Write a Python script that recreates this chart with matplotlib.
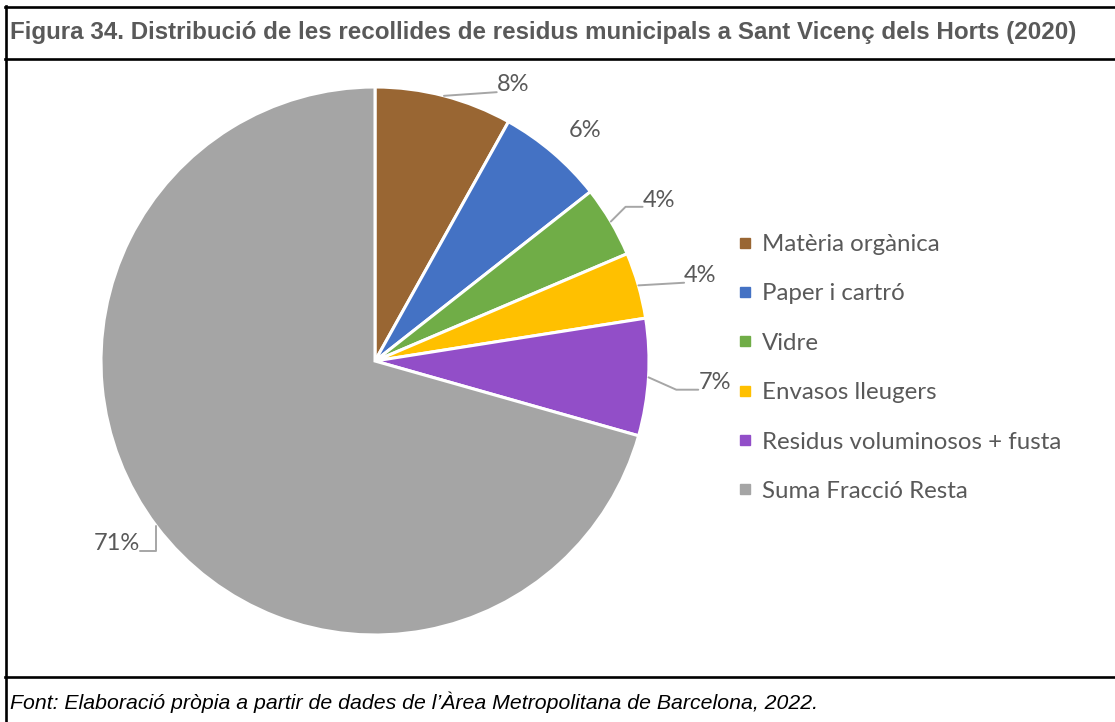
import numpy as np
import matplotlib.pyplot as plt
from matplotlib.lines import Line2D

# -----------------------------------------------------------------------------
# Data
# -----------------------------------------------------------------------------

CATEGORIES = [
    "Matèria orgànica",
    "Paper i cartró",
    "Vidre",
    "Envasos lleugers",
    "Residus voluminosos + fusta",
    "Suma Fracció Resta",
]
SHARES = [8.1, 6.3, 4.2, 3.9, 6.9, 70.6]
COLORS = ["#996633", "#4472C4", "#70AD47", "#FFC000", "#924EC8", "#A5A5A5"]

TITLE = "Figura 34. Distribució de les recollides de residus municipals a Sant Vicenç dels Horts (2020)"
SOURCE = "Font: Elaboració pròpia a partir de dades de l’Àrea Metropolitana de Barcelona, 2022."

# -----------------------------------------------------------------------------
# Layout (pixels, origin top-left)
# -----------------------------------------------------------------------------

W, H = 1115, 722
CX, CY, R = 375, 361, 274
TXT = "#595959"
LEADER = "#A6A6A6"

# label offsets from the slice edge (px), line style, attach point on text
LABEL_STYLE = [
    dict(off=(69, 11), conn="arc3,rad=0", rel=(0.0, 0.15)),
    dict(off=(32, 22), conn=None, rel=None),
    dict(off=(48, 21), conn="angle,angleA=0,angleB=45,rad=0", rel=(0.0, 0.2)),
    dict(off=(62, 10), conn="arc3,rad=0", rel=(0.0, 0.15)),
    dict(off=(66, -5), conn="angle,angleA=0,angleB=-24,rad=0", rel=(0.0, 0.15)),
    dict(off=(-40, -17), conn="angle,angleA=0,angleB=90,rad=0", rel=(1.0, 0.15)),
]

fig = plt.figure(figsize=(W / 100, H / 100), dpi=100)

# frame lines
def hline(y, x0, x1):
    fig.add_artist(Line2D([x0 / W, x1 / W], [1 - y / H, 1 - y / H], color="black", lw=1.9))

hline(7, 5, W)
hline(59, 5, W)
hline(677, 5, W)
fig.add_artist(Line2D([6 / W, 6 / W], [1 - 6 / H, 0], color="black", lw=1.9))

fig.text(10 / W, 1 - 33 / H, TITLE, ha="left", va="center", fontsize=17.4,
         fontweight="bold", color=TXT, family="Liberation Sans")
fig.text(10 / W, 1 - 702 / H, SOURCE, ha="left", va="center", fontsize=15.3,
         style="italic", color="black", family="Liberation Sans")

# -----------------------------------------------------------------------------
# Pie
# -----------------------------------------------------------------------------

ax = fig.add_axes([(CX - R) / W, (H - CY - R) / H, 2 * R / W, 2 * R / H])
wedges, _ = ax.pie(SHARES, colors=COLORS, startangle=90, counterclock=False,
                   radius=1, wedgeprops=dict(edgecolor="white", linewidth=2.2))
ax.set_xlim(-1, 1)
ax.set_ylim(-1, 1)
ax.set_aspect("equal")

total = sum(SHARES)
for w, v, st in zip(wedges, SHARES, LABEL_STYLE):
    mid = np.deg2rad((w.theta1 + w.theta2) / 2)
    xy = (np.cos(mid), np.sin(mid))
    label = f"{v / total * 100:.0f}%"
    props = None
    if st["conn"]:
        props = dict(arrowstyle="-", color=LEADER, lw=1.4, shrinkA=0, shrinkB=0,
                     connectionstyle=st["conn"], relpos=st["rel"], patchA=None)
    ax.annotate(label, xy=xy, xytext=st["off"], textcoords="offset pixels",
                ha="center", va="center", fontsize=17, color=TXT, family="Lato",
                arrowprops=props)

# -----------------------------------------------------------------------------
# Legend
# -----------------------------------------------------------------------------

handles = [Line2D([], [], marker="s", ls="", markersize=7, color=c) for c in COLORS]
fig.legend(handles, CATEGORIES, loc="center left",
           bbox_to_anchor=(738 / W, 1 - 368 / H), frameon=False,
           prop=dict(family="Lato", size=17.3), labelcolor=TXT,
           handlelength=0.55, handletextpad=0.45, labelspacing=1.18,
           borderpad=0, borderaxespad=0)

fig.savefig("out.png", dpi=100)
